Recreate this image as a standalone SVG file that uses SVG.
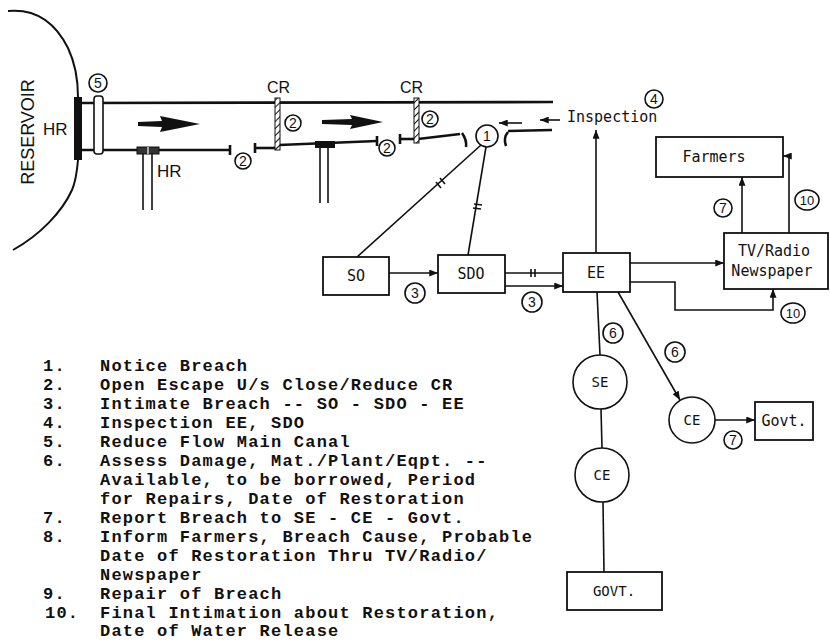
<svg xmlns="http://www.w3.org/2000/svg" width="830" height="643" viewBox="0 0 830 643">
<defs>
<style>
.ln{stroke:#111;stroke-width:1.6;fill:none}
.canal{stroke:#111;stroke-width:2.6;fill:none}
.box{fill:#fff;stroke:#111;stroke-width:1.8}
.cir{fill:#fff;stroke:#111;stroke-width:1.6}
.lbl{font-family:"DejaVu Sans Mono","Liberation Mono",monospace;font-size:15px;fill:#111;text-anchor:middle}
.sm{font-size:14px}
.num{font-family:"Liberation Sans",Arial,sans-serif;font-size:14px;fill:#111;text-anchor:middle}
.n10{font-size:13px}
.big{font-family:"Liberation Sans",Arial,sans-serif;font-size:17px;fill:#111}
.leg{font-family:"Liberation Mono","Courier New",monospace;font-size:17px;letter-spacing:1.2px;font-weight:bold;fill:#111}
</style>
<marker id="ah" viewBox="0 0 10 8" refX="10" refY="4" markerWidth="9" markerHeight="7" markerUnits="userSpaceOnUse" orient="auto">
<path d="M0,0 L10,4 L0,8 z" fill="#111"/>
</marker>
<pattern id="hatch" width="5" height="5" patternUnits="userSpaceOnUse" patternTransform="rotate(45)">
<rect width="5" height="5" fill="#fff"/>
<line x1="0" y1="0" x2="0" y2="5" stroke="#111" stroke-width="2"/>
</pattern>
</defs>
<rect width="830" height="643" fill="#fff"/>

<g id="reservoir">
<path class="ln" d="M8,11 C40,8 58,28 68,48 C76,65 78,85 78,97 M78,160 C77,172 75,183 72,190 C62,212 40,235 13,250" style="stroke-width:2"/>
<rect x="74" y="97" width="8" height="63" fill="#111"/>
<text class="big" transform="translate(34,132) rotate(-90)" style="text-anchor:middle;font-size:18px">RESERVOIR</text>
<text class="big" x="43" y="135">HR</text>
</g>

<g id="canal">
<line class="canal" x1="82" y1="103" x2="553" y2="102"/>
<line class="canal" x1="82" y1="150" x2="230" y2="150"/>
<line class="canal" x1="230" y1="145" x2="230" y2="155"/>
<line class="canal" x1="255" y1="148" x2="277" y2="148"/>
<line class="canal" x1="255" y1="143" x2="255" y2="153"/>
<line class="canal" x1="279" y1="145" x2="377" y2="141"/>
<line class="canal" x1="377" y1="136" x2="377" y2="146"/>
<line class="canal" x1="400" y1="139" x2="415" y2="139"/>
<line class="canal" x1="400" y1="134" x2="400" y2="144"/>
<line class="canal" x1="418" y1="139" x2="460" y2="134"/>
<path class="canal" d="M462,133 Q467,140 466,147"/>
<path class="canal" d="M508,132 Q503,138 506,146"/>
<line class="canal" x1="508" y1="131" x2="552" y2="130"/>
</g>

<g id="gate5">
<rect x="94" y="96" width="9" height="58" rx="3" fill="#fff" stroke="#111" stroke-width="1.6"/>
<circle class="cir" cx="98" cy="83" r="9"/><text class="num" x="98" y="88">5</text>
</g>

<g id="hr1">
<rect x="137" y="147" width="22" height="7" fill="#333" stroke="#111" stroke-width="1"/>
<line x1="148" y1="147" x2="148" y2="154" stroke="#fff" stroke-width="1.2"/>
<line class="ln" x1="143" y1="154" x2="143" y2="210"/>
<line class="ln" x1="152" y1="154" x2="152" y2="210"/>
<text class="big" x="157" y="177">HR</text>
</g>

<g id="hr2">
<rect x="315" y="141" width="20" height="7" fill="#111"/>
<line class="ln" x1="320" y1="148" x2="320" y2="203"/>
<line class="ln" x1="328" y1="148" x2="328" y2="203"/>
</g>

<g id="cr1">
<rect x="275" y="98" width="5" height="52" fill="url(#hatch)" stroke="#111" stroke-width="1"/>
<text class="big" x="267" y="93" style="font-size:16px">CR</text>
</g>
<g id="cr2">
<rect x="414" y="98" width="5" height="45" fill="url(#hatch)" stroke="#111" stroke-width="1"/>
<text class="big" x="400" y="93" style="font-size:16px">CR</text>
</g>

<g id="flow">
<polygon points="138,122 162,121 160,116 200,124 160,132 162,127 138,126" fill="#111"/>
<polygon points="322,120 352,119 350,115 383,122 350,129 352,125 322,124" fill="#111"/>
</g>

<g id="marks2">
<circle class="cir" cx="243" cy="161" r="8"/><text class="num" x="243" y="166">2</text>
<circle class="cir" cx="293" cy="123" r="8"/><text class="num" x="293" y="128">2</text>
<circle class="cir" cx="387" cy="148" r="8"/><text class="num" x="387" y="153">2</text>
<circle class="cir" cx="430" cy="119" r="8"/><text class="num" x="430" y="124">2</text>
</g>

<g id="notice">
<circle class="cir" cx="487" cy="136" r="11"/><text class="num" x="487" y="141">1</text>
</g>

<g id="inspection">
<line class="ln" x1="522" y1="123" x2="499" y2="123" marker-end="url(#ah)"/>
<line class="ln" x1="560" y1="120" x2="540" y2="120" marker-end="url(#ah)"/>
<text class="lbl" x="567" y="122" style="text-anchor:start">Inspection</text>
<circle class="cir" cx="654" cy="99" r="9"/><text class="num" x="654" y="104">4</text>
</g>

<g id="so"><rect class="box" x="323" y="257" width="66" height="38"/><text class="lbl" x="356" y="281">SO</text></g>
<g id="sdo"><rect class="box" x="438" y="255" width="67" height="38"/><text class="lbl" x="471" y="279">SDO</text></g>
<g id="ee"><rect class="box" x="563" y="253" width="67" height="39"/><text class="lbl" x="596" y="278">EE</text></g>
<g id="tv"><rect class="box" x="724" y="233" width="104" height="56"/><text class="lbl" x="774" y="256">TV/Radio</text><text class="lbl" x="772" y="276">Newspaper</text></g>
<g id="farmers"><rect class="box" x="656" y="137" width="127" height="40"/><text class="lbl" x="714" y="162">Farmers</text></g>
<g id="se"><circle class="cir" cx="600" cy="382" r="27"/><text class="lbl sm" x="600" y="387">SE</text></g>
<g id="ce1"><circle class="cir" cx="602" cy="475" r="27"/><text class="lbl sm" x="602" y="480">CE</text></g>
<g id="govt1"><rect class="box" x="567" y="572" width="95" height="38"/><text class="lbl sm" x="614" y="596">GOVT.</text></g>
<g id="ce2"><circle class="cir" cx="692" cy="420" r="23"/><text class="lbl sm" x="692" y="425">CE</text></g>
<g id="govt2"><rect class="box" x="755" y="402" width="58" height="38"/><text class="lbl" x="784" y="426">Govt.</text></g>

<g id="connectors">
<line class="ln" x1="481" y1="145" x2="357" y2="257"/>
<line class="ln" x1="436" y1="182" x2="441" y2="188"/>
<line class="ln" x1="440" y1="178" x2="445" y2="184"/>
<line class="ln" x1="486" y1="147" x2="468" y2="255"/>
<line class="ln" x1="474" y1="204" x2="482" y2="205"/>
<line class="ln" x1="473" y1="208" x2="481" y2="209"/>
<line class="ln" x1="389" y1="273" x2="438" y2="273" marker-end="url(#ah)"/>
<line class="ln" x1="505" y1="273" x2="562" y2="273"/>
<line class="ln" x1="531" y1="269" x2="531" y2="277"/>
<line class="ln" x1="535" y1="269" x2="535" y2="277"/>
<line class="ln" x1="505" y1="286" x2="563" y2="286" marker-end="url(#ah)"/>
<line class="ln" x1="596" y1="253" x2="596" y2="130" marker-end="url(#ah)"/>
<line class="ln" x1="630" y1="263" x2="724" y2="263" marker-end="url(#ah)"/>
<polyline class="ln" points="630,282 675,282 675,310 773,310 773,289" marker-end="url(#ah)"/>
<line class="ln" x1="742" y1="233" x2="742" y2="177" marker-end="url(#ah)"/>
<polyline class="ln" points="789,233 789,156 783,156" marker-end="url(#ah)"/>
<line class="ln" x1="597" y1="292" x2="600" y2="355"/>
<line class="ln" x1="601" y1="409" x2="602" y2="448"/>
<line class="ln" x1="603" y1="502" x2="604" y2="572"/>
<line class="ln" x1="618" y1="292" x2="680" y2="400" marker-end="url(#ah)"/>
<line class="ln" x1="715" y1="420" x2="755" y2="420" marker-end="url(#ah)"/>
</g>

<g id="step-labels">
<circle class="cir" cx="415" cy="293" r="10"/><text class="num" x="415" y="298">3</text>
<circle class="cir" cx="532" cy="302" r="10"/><text class="num" x="532" y="307">3</text>
<circle class="cir" cx="613" cy="333" r="10"/><text class="num" x="613" y="338">6</text>
<circle class="cir" cx="675" cy="352" r="10"/><text class="num" x="675" y="357">6</text>
<circle class="cir" cx="723" cy="208" r="9"/><text class="num" x="723" y="213">7</text>
<circle class="cir" cx="733" cy="440" r="9"/><text class="num" x="733" y="445">7</text>
<ellipse class="cir" cx="807" cy="200" rx="12" ry="10"/><text class="num n10" x="807" y="205">10</text>
<ellipse class="cir" cx="793" cy="313" rx="12" ry="10"/><text class="num n10" x="793" y="318">10</text>
</g>

<g id="legend">
<text class="leg" x="43" y="371">1.</text><text class="leg" x="100" y="371">Notice Breach</text>
<text class="leg" x="43" y="390">2.</text><text class="leg" x="100" y="390">Open Escape U/s Close/Reduce CR</text>
<text class="leg" x="43" y="409">3.</text><text class="leg" x="100" y="409">Intimate Breach -- SO - SDO - EE</text>
<text class="leg" x="43" y="428">4.</text><text class="leg" x="100" y="428">Inspection EE, SDO</text>
<text class="leg" x="43" y="447">5.</text><text class="leg" x="100" y="447">Reduce Flow Main Canal</text>
<text class="leg" x="43" y="466">6.</text><text class="leg" x="100" y="466">Assess Damage, Mat./Plant/Eqpt. --</text>
<text class="leg" x="100" y="485">Available, to be borrowed, Period</text>
<text class="leg" x="100" y="504">for Repairs, Date of Restoration</text>
<text class="leg" x="43" y="523">7.</text><text class="leg" x="100" y="523">Report Breach to SE - CE - Govt.</text>
<text class="leg" x="43" y="542">8.</text><text class="leg" x="100" y="542">Inform Farmers, Breach Cause, Probable</text>
<text class="leg" x="100" y="561">Date of Restoration Thru TV/Radio/</text>
<text class="leg" x="100" y="580">Newspaper</text>
<text class="leg" x="43" y="599">9.</text><text class="leg" x="100" y="599">Repair of Breach</text>
<text class="leg" x="45" y="618">10.</text><text class="leg" x="100" y="618">Final Intimation about Restoration,</text>
<text class="leg" x="100" y="636">Date of Water Release</text>
</g>
</svg>
